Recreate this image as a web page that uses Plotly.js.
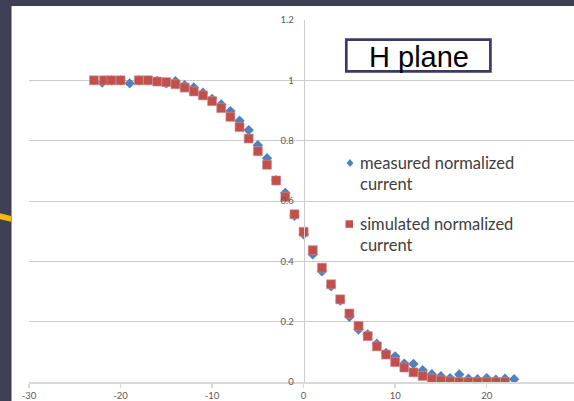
<!DOCTYPE html>
<html>
<head>
<meta charset="utf-8">
<script src="https://cdn.plot.ly/plotly-3.0.1.min.js"></script>
<style>
html,body{margin:0;padding:0;background:#ffffff;}
#chart{width:574px;height:401px;}
</style>
</head>
<body>
<div id="chart"></div>
<script>
// ---- data ----
const measuredX = [-22,-21,-20,-19,-18,-17,-16,-15,-14,-13,-12,-11,-10,-9,-8,-7,-6,-5,-4,-3,-2,-1,0,1,2,3,4,5,6,7,8,9,10,11,12,13,14,15,16,17,18,19,20,21,22,23];
const measuredY = [0.993,1.0,1.0,0.99,1.0,1.0,0.998,0.99,0.997,0.984,0.976,0.959,0.938,0.92,0.898,0.866,0.835,0.785,0.742,0.669,0.627,0.551,0.49,0.423,0.367,0.317,0.27,0.216,0.174,0.158,0.127,0.096,0.085,0.061,0.06,0.039,0.026,0.019,0.013,0.025,0.011,0.009,0.013,0.008,0.011,0.009];
const simulatedX = [-22.9,-21.8,-21,-20,-18,-17,-16,-15,-14,-13,-12,-11,-10,-9,-8,-7,-6,-5,-4,-3,-2,-1,0,1,2,3,4,5,6,7,8,9,10,11,12,13,14,15,16,17,18,19,20,21,22];
const simulatedY = [1,1,1,1,1,1,0.996,0.994,0.987,0.976,0.963,0.95,0.931,0.908,0.879,0.845,0.807,0.765,0.72,0.668,0.614,0.556,0.498,0.437,0.379,0.324,0.274,0.227,0.186,0.152,0.118,0.091,0.066,0.048,0.032,0.02,0.011,0.005,0.002,0,0,0,0,0,0];
const xTicks = [-30,-20,-10,0,10,20,30];
const yTicks = [0,0.2,0.4,0.6,0.8,1,1.2];
const seriesNames = ['measured normalized<br>current','simulated normalized<br>current'];
const chartTitle = 'H plane';

// ---- layout helpers (pixel -> paper) ----
const L = 29, T = 20, W = 545, H = 362;
const px = x => (x - L) / W;
const py = y => (T + H - y) / H;

const blue = '#4F81BD', red = '#C0504D', frame = '#3e3f53';

const traces = [
  {x: measuredX, y: measuredY, type: 'scatter', mode: 'markers', name: seriesNames[0],
   marker: {symbol: 'diamond', size: 8, color: blue, line: {width: 0}}, showlegend: false, hoverinfo: 'x+y'},
  {x: simulatedX, y: simulatedY, type: 'scatter', mode: 'markers', name: seriesNames[1],
   marker: {symbol: 'square', size: 9, color: red, line: {width: 0.6, color: '#d98d8b'}}, showlegend: false, hoverinfo: 'x+y'}
];

const tickFont = {family: 'Lato, "Liberation Sans", sans-serif', size: 9.5, color: '#595959'};

const dx = 4 / W, dy = 4 / H;
const shapes = [
  // dark slide frame
  {type: 'rect', xref: 'paper', yref: 'paper', x0: px(0), x1: px(574), y0: py(6), y1: py(0), fillcolor: frame, line: {width: 0}, layer: 'above'},
  {type: 'rect', xref: 'paper', yref: 'paper', x0: px(0), x1: px(11), y0: py(401), y1: py(0), fillcolor: frame, line: {width: 0}, layer: 'above'},
  {type: 'line', xref: 'paper', yref: 'paper', x0: px(11.5), x1: px(11.5), y0: py(401), y1: py(6), line: {color: '#9a9aa2', width: 1}, layer: 'above'},
  {type: 'path', xref: 'paper', yref: 'paper', layer: 'above', fillcolor: '#f2b90f', line: {width: 0},
   path: `M ${px(0)} ${py(213.3)} L ${px(11)} ${py(216)} L ${px(11)} ${py(221.7)} L ${px(0)} ${py(219.3)} Z`},
  // title box
  {type: 'rect', xref: 'paper', yref: 'paper', x0: px(346.3), x1: px(490.4), y0: py(71.4), y1: py(39.6),
   fillcolor: '#ffffff', line: {color: '#3b3a66', width: 2.7}, layer: 'above'},
  // legend symbols
  {type: 'path', xref: 'paper', yref: 'paper', layer: 'above', fillcolor: blue, line: {width: 0},
   path: `M ${px(350)-dx*0.85} ${py(163)} L ${px(350)} ${py(163)+dy} L ${px(350)+dx*0.85} ${py(163)} L ${px(350)} ${py(163)-dy} Z`},
  {type: 'rect', xref: 'paper', yref: 'paper', layer: 'above', fillcolor: red, line: {width: 0},
   x0: px(345.5), x1: px(353), y0: py(227.8), y1: py(220.3)}
];

const legendFont = {family: 'Lato, "Open Sans", sans-serif', size: 16.5, color: '#404040'};
const annotations = [
  {xref: 'paper', yref: 'paper', x: px(418.8), y: py(57.5), text: chartTitle, showarrow: false,
   xanchor: 'center', yanchor: 'middle', font: {family: '"Liberation Sans", Arial, sans-serif', size: 29, color: '#000000'}},
  {xref: 'paper', yref: 'paper', x: px(357.5), y: py(173.5), text: seriesNames[0], showarrow: false,
   xanchor: 'left', yanchor: 'middle', align: 'left', font: legendFont},
  {xref: 'paper', yref: 'paper', x: px(357.5), y: py(234.5), text: seriesNames[1], showarrow: false,
   xanchor: 'left', yanchor: 'middle', align: 'left', font: legendFont}
];

const layout = {
  width: 574, height: 401,
  margin: {l: L, r: 574 - L - W, t: T, b: 401 - T - H, pad: 0},
  paper_bgcolor: '#ffffff', plot_bgcolor: '#ffffff',
  showlegend: false,
  xaxis: {
    range: [-30, -30 + W / 9.154], tickvals: xTicks, ticktext: xTicks.map(String),
    showgrid: false, zeroline: false, showline: true, linecolor: '#d9d9d9', linewidth: 1.5,
    ticks: 'outside', ticklen: 4, tickcolor: '#d9d9d9', tickwidth: 1.5,
    tickfont: tickFont, fixedrange: true
  },
  yaxis: {
    range: [0, 1.2], tickvals: yTicks, ticktext: yTicks.map(String),
    anchor: 'free', position: 30 * 9.154 / W,
    showgrid: true, gridcolor: '#cccccc', gridwidth: 1, zeroline: false,
    showline: true, linecolor: '#cccccc', linewidth: 1,
    ticks: '', ticklabelstandoff: 8,
    tickfont: tickFont, fixedrange: true
  },
  shapes: shapes,
  annotations: annotations
};

Plotly.newPlot('chart', traces, layout, {displayModeBar: false, staticPlot: true});
</script>
</body>
</html>
